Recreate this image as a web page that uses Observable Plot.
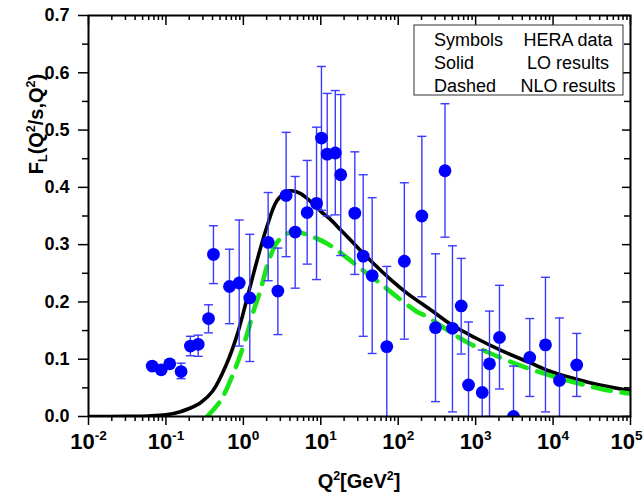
<!DOCTYPE html>
<html><head><meta charset="utf-8">
<script src="https://cdn.jsdelivr.net/npm/d3@7"></script>
<script src="https://cdn.jsdelivr.net/npm/@observablehq/plot@0.6"></script>
<style>
body{margin:0;background:#fff}
#chart{position:relative;width:644px;height:495px}
</style>
</head><body><div id="chart"></div>
<script>
// HERA data (Q^2 in GeV^2, F_L with error bar ends)
const Q2   = [0.0665,0.0869,0.112,0.157,0.207,0.261,0.355,0.411,0.662,0.883,1.21,2.09,2.79,3.57,4.67,6.67,8.81,10.2,12.1,15.4,18.1,27.5,35.3,46.1,71.2,120,202,303,402,502,651,809,1216,1510,2032,3083,5000,7980,12100,20200];
const FL   = [0.088,0.0815,0.092,0.0785,0.123,0.126,0.171,0.283,0.227,0.233,0.207,0.304,0.219,0.386,0.322,0.356,0.372,0.486,0.458,0.460,0.422,0.355,0.280,0.246,0.122,0.271,0.350,0.155,0.429,0.154,0.193,0.055,0.042,0.092,0.138,0.0,0.103,0.125,0.063,0.090];
const FLhi = [0.092,0.086,0.096,0.093,0.140,0.142,0.195,0.333,0.292,0.343,0.318,0.391,0.294,0.496,0.419,0.447,0.505,0.611,0.564,0.569,0.562,0.462,0.422,0.382,0.262,0.408,0.489,0.284,0.546,0.298,0.276,0.165,0.116,0.184,0.229,0.088,0.171,0.243,0.172,0.145];
const FLlo = [0.084,0.077,0.088,0.066,0.106,0.105,0.146,0.232,0.162,0.123,0.096,0.237,0.143,0.279,0.224,0.266,0.239,0.360,0.350,0.352,0.281,0.248,0.140,0.110,-0.02,0.135,0.209,0.026,0.313,0.008,0.109,-0.02,-0.02,0.0,0.048,-0.09,0.035,0.008,-0.05,0.035];

// LO results (solid)
const LOx = [0.01,0.03,0.06,0.1,0.15,0.2,0.28,0.4,0.6,0.83,1.12,1.5,2.0,2.7,3.6,4.2,5.5,7.4,10,13.3,18,29.5,48,80,131,270,490,1000,2160,5000,9500,30000,100000];
const LOy = [0,0.0003,0.001,0.003,0.008,0.014,0.024,0.044,0.09,0.142,0.207,0.272,0.330,0.376,0.392,0.394,0.389,0.375,0.358,0.344,0.326,0.296,0.267,0.239,0.215,0.185,0.160,0.137,0.115,0.094,0.078,0.059,0.045];

// NLO results (dashed)
const NLOx = [0.34,0.51,0.68,0.83,1.12,1.36,1.66,2.13,2.73,3.68,4.5,8.1,12.7,21.9,34.3,59,92,174,222,765,2163,5810,42000,100000];
const NLOy = [0,0.028,0.063,0.092,0.144,0.185,0.220,0.272,0.304,0.319,0.323,0.313,0.300,0.277,0.256,0.232,0.211,0.183,0.176,0.130,0.102,0.080,0.048,0.040];

// Axis ticks
const xMajor = [1e-2,1e-1,1e0,1e1,1e2,1e3,1e4,1e5];
const xMinor = xMajor.slice(0,-1).flatMap(d => [2,3,4,5,6,7,8,9].map(m => m*d));
const yMajor = [0,0.1,0.2,0.3,0.4,0.5,0.6,0.7];
const yMinor = [0.05,0.15,0.25,0.35,0.45,0.55,0.65];

// Texts
const xTitle = "Q^{2}[GeV^{2}]";
const yTitle = "F_{L}(Q^{2}/s,Q^{2})";
const legendKeys = ["Symbols","Solid","Dashed"];
const legendDesc = ["HERA data","LO results","NLO results"];

const hera = Q2.map((q,i) => ({q, fl: FL[i], lo: FLlo[i], hi: FLhi[i]}));
const lo = LOx.map((q,i) => ({q, fl: LOy[i]}));
const nlo = NLOx.map((q,i) => ({q, fl: NLOy[i]}));

const W = 644, H = 495, mL = 88, mR = 14, mT = 15, mB = 79;
const fw = W - mL - mR, fh = H - mT - mB;
const FONT = "'Liberation Sans', Arial, Helvetica, sans-serif";

const cap = {draw(ctx){ ctx.moveTo(-4.5,0); ctx.lineTo(4.5,0); }};
const errColor = "#3b3bff";

const plot = Plot.plot({
  width: W, height: H,
  marginLeft: mL, marginRight: mR, marginTop: mT, marginBottom: mB,
  style: {fontFamily: FONT, background: "#fff", color: "#000"},
  x: {type: "log", domain: [1e-2, 1e5], label: null},
  y: {domain: [0, 0.7], label: null},
  marks: [
    Plot.axisX(xMinor, {tickSize: 5, tickFormat: () => "", strokeWidth: 1.5, label: null}),
    Plot.axisX(xMajor, {tickSize: 9, tickPadding: 8, strokeWidth: 1.5, label: null,
      tickFormat: d => `10^{${Math.round(Math.log10(d))}}`, fontSize: 22, fontWeight: "bold"}),
    Plot.axisY(yMinor, {tickSize: 6, tickFormat: () => "", strokeWidth: 1.5, label: null}),
    Plot.axisY(yMajor, {tickSize: 10, tickPadding: 9, strokeWidth: 1.5, label: null,
      tickFormat: d3.format(".1f"), fontSize: 18, fontWeight: "bold"}),
    // mirrored inward ticks on top and right
    Plot.tickX(xMinor, {x: d => d, insetBottom: fh - 5, stroke: "#000", strokeWidth: 1.5}),
    Plot.tickX(xMajor, {x: d => d, insetBottom: fh - 10, stroke: "#000", strokeWidth: 1.5}),
    Plot.tickY(yMinor, {y: d => d, insetLeft: fw - 6, stroke: "#000", strokeWidth: 1.5}),
    Plot.tickY(yMajor, {y: d => d, insetLeft: fw - 8, stroke: "#000", strokeWidth: 1.5}),
    // theory curves
    Plot.line(lo, {x: "q", y: "fl", stroke: "#000", strokeWidth: 3.6, curve: "catmull-rom", clip: true}),
    Plot.line(nlo, {x: "q", y: "fl", stroke: "#19e619", strokeWidth: 4.6, strokeDasharray: "18,11", curve: "catmull-rom", clip: true}),
    // error bars
    Plot.ruleX(hera, {x: "q", y1: "lo", y2: "hi", stroke: errColor, strokeWidth: 1.4, clip: true}),
    Plot.dot(hera, {x: "q", y: "hi", symbol: cap, fill: "none", stroke: errColor, strokeWidth: 1.4, clip: true}),
    Plot.dot(hera, {x: "q", y: "lo", symbol: cap, fill: "none", stroke: errColor, strokeWidth: 1.4, clip: true}),
    Plot.dot(hera, {x: "q", y: "fl", r: 6.4, fill: "#0000ff", stroke: "none", clip: true}),
    Plot.frame({stroke: "#000", strokeWidth: 2})
  ]
});

document.getElementById("chart").appendChild(plot);
const svg = d3.select(plot);

// axis titles
svg.append("text").attr("class","xtitle")
  .attr("x", mL + fw/2).attr("y", 488)
  .attr("text-anchor","middle").attr("font-family", FONT)
  .attr("font-size", 20).attr("font-weight","bold").attr("fill","#000")
  .text(xTitle);
svg.append("text").attr("class","ytitle")
  .attr("transform", "translate(43,124) rotate(-90)")
  .attr("text-anchor","middle").attr("font-family", FONT)
  .attr("font-size", 20).attr("font-weight","bold").attr("fill","#000")
  .text(yTitle);

// legend box
const lg = svg.append("g").attr("font-family", FONT).attr("font-size", 18).attr("fill", "#000");
const lx = W - mR - 216, ly = mT + 10, lw = 209, lh = 70;
lg.append("rect").attr("x", lx).attr("y", ly).attr("width", lw).attr("height", lh)
  .attr("fill", "#fff").attr("stroke", "#333").attr("stroke-width", 1);
legendKeys.forEach((k, i) => {
  lg.append("text").attr("x", lx + 20).attr("y", ly + 21 + i*23).attr("text-anchor","start").text(k);
  lg.append("text").attr("x", lx + 154).attr("y", ly + 21 + i*23).attr("text-anchor","middle").text(legendDesc[i]);
});

// rich text: ^{...} superscript, _{...} subscript
function richify(root) {
  root.querySelectorAll("text").forEach(t => {
    const targets = t.querySelector("tspan") ? [...t.querySelectorAll("tspan")] : [t];
    targets.forEach(n => {
      const s = n.textContent;
      if (!/[\^_]\{/.test(s)) return;
      const fs = parseFloat(getComputedStyle(n).fontSize) || 16;
      n.textContent = "";
      const re = /([\^_])\{([^}]*)\}|([^\^_]+)/g;
      let m;
      while ((m = re.exec(s))) {
        const sp = document.createElementNS("http://www.w3.org/2000/svg", "tspan");
        if (m[3] !== undefined) sp.textContent = m[3];
        else {
          sp.textContent = m[2];
          sp.setAttribute("font-size", (fs*0.62).toFixed(1));
          sp.setAttribute("baseline-shift", m[1] === "^" ? (fs*0.42).toFixed(1) : (-fs*0.22).toFixed(1));
        }
        n.appendChild(sp);
      }
    });
  });
}
richify(plot);

// keep the last x tick label (10^5) inside the picture
const xLabels = [...plot.querySelectorAll("text")].filter(t => /^10/.test(t.textContent));
if (xLabels.length) {
  const last = xLabels[xLabels.length - 1];
  const bb = last.getBBox();
  const ctm = last.getCTM();
  const right = ctm ? ctm.e + bb.x + bb.width : W;
  if (right > W - 1) last.setAttribute("dx", (W - 1 - right).toFixed(1));
}
</script>
</body></html>
